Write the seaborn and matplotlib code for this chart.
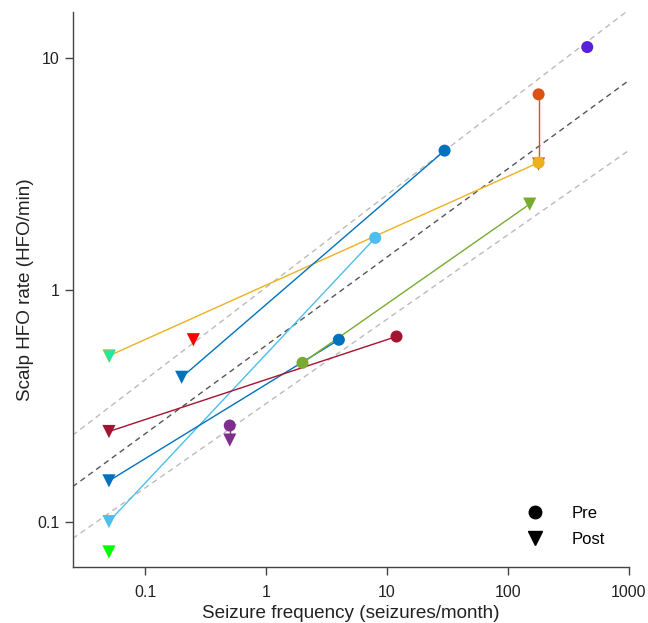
import numpy as np
import pandas as pd
import seaborn as sns
import matplotlib.pyplot as plt
from matplotlib.lines import Line2D

# per patient: seizure frequency (seizures/month) and scalp HFO rate (HFO/min)
patients = ["P1", "P2", "P3", "P4", "P5", "P6", "P7", "P8", "P9", "P10", "P11"]
colors = ["#5A1FD8", "#D95319", "#EDB120", "#0072BD", "#4DBEEE", "#0072BD",
          "#77AC30", "#A2142F", "#FF0000", "#7E2F8E", "#00FF00"]
pre_freq = [455, 180, 180, 30, 8.0, 4.0, 2.0, 12.0, np.nan, 0.5, np.nan]
pre_rate = [11.2, 7.0, 3.55, 4.0, 1.68, 0.61, 0.485, 0.63, np.nan, 0.26, np.nan]
post_freq = [np.nan, 180, 0.05, 0.2, 0.05, 0.05, 152, 0.05, 0.25, 0.5, 0.05]
post_rate = [np.nan, 3.5, 0.52, 0.42, 0.10, 0.15, 2.35, 0.245, 0.61, 0.225, 0.074]
# patient with a post value only, drawn on top
extra_freq = [0.05]
extra_rate = [0.52]
extra_color = "#20E8A0"

# fit line and band edges (log10 space): upper, fit, lower
fit_slopes = [0.399, 0.381, 0.364]
fit_icepts = [0.012, -0.239, -0.49]
fit_colors = ["#BBBBBB", "#555555", "#BBBBBB"]

rows = []
for i, p in enumerate(patients):
    rows.append((p, "Pre", pre_freq[i], pre_rate[i]))
    rows.append((p, "Post", post_freq[i], post_rate[i]))
df = pd.DataFrame(rows, columns=["patient", "phase", "freq", "rate"]).dropna()
pal = dict(zip(patients, colors))

plt.rcParams['font.family'] = ['Liberation Sans', 'DejaVu Sans']
fig = plt.figure(figsize=(6.48, 6.23), dpi=100)
ax = fig.add_axes([0.112, 0.0894, 0.858, 0.8906])
ax.set_xscale("log")
ax.set_yscale("log")
ax.set_xlim(0.025, 1000)
ax.set_ylim(0.0635, 15.8)

xx = np.logspace(np.log10(0.025), 3, 50)
for k, b, col in zip(fit_slopes, fit_icepts, fit_colors):
    ax.plot(xx, 10 ** (b + k * np.log10(xx)),
            ls=(0, (4, 3)), color=col, lw=1, zorder=1)

sns.lineplot(data=df, x="freq", y="rate", hue="patient", units="patient",
             estimator=None, sort=False, palette=pal, lw=1, legend=False,
             ax=ax, zorder=2)
for ph, mk, sz in [("Post", "v", 90), ("Pre", "o", 75)]:
    sub = df[df.phase == ph]
    sns.scatterplot(data=sub, x="freq", y="rate", hue="patient", palette=pal,
                    marker=mk, s=sz, linewidth=0, legend=False, ax=ax, zorder=3)
ax.scatter(extra_freq, extra_rate, marker="v", s=80, color=extra_color,
           linewidth=0, zorder=4)

ax.set_xticks([0.1, 1, 10, 100, 1000])
ax.set_xticklabels(["0.1", "1", "10", "100", "1000"])
ax.set_yticks([0.1, 1, 10])
ax.set_yticklabels(["0.1", "1", "10"])
ax.minorticks_off()
sns.despine(ax=ax)
for s in ["left", "bottom"]:
    ax.spines[s].set_color("#444444")
    ax.spines[s].set_linewidth(1)
ax.tick_params(length=6, width=1, color="#444444", labelsize=11.5, labelcolor="#222222")
ax.tick_params(axis="x", pad=7)
ax.set_xlabel("Seizure frequency (seizures/month)", fontsize=13.6, color="#222222", labelpad=3)
ax.set_ylabel("Scalp HFO rate (HFO/min)", fontsize=13.6, color="#222222", labelpad=2)

handles = [Line2D([], [], ls="", marker="o", color="black", ms=9),
           Line2D([], [], ls="", marker="v", color="black", ms=10)]
ax.legend(handles, ["Pre", "Post"], loc="lower right", frameon=False,
          fontsize=12, handletextpad=1.2, labelspacing=0.65,
          bbox_to_anchor=(0.985, 0.01))

fig.savefig("out.png", dpi=100)
